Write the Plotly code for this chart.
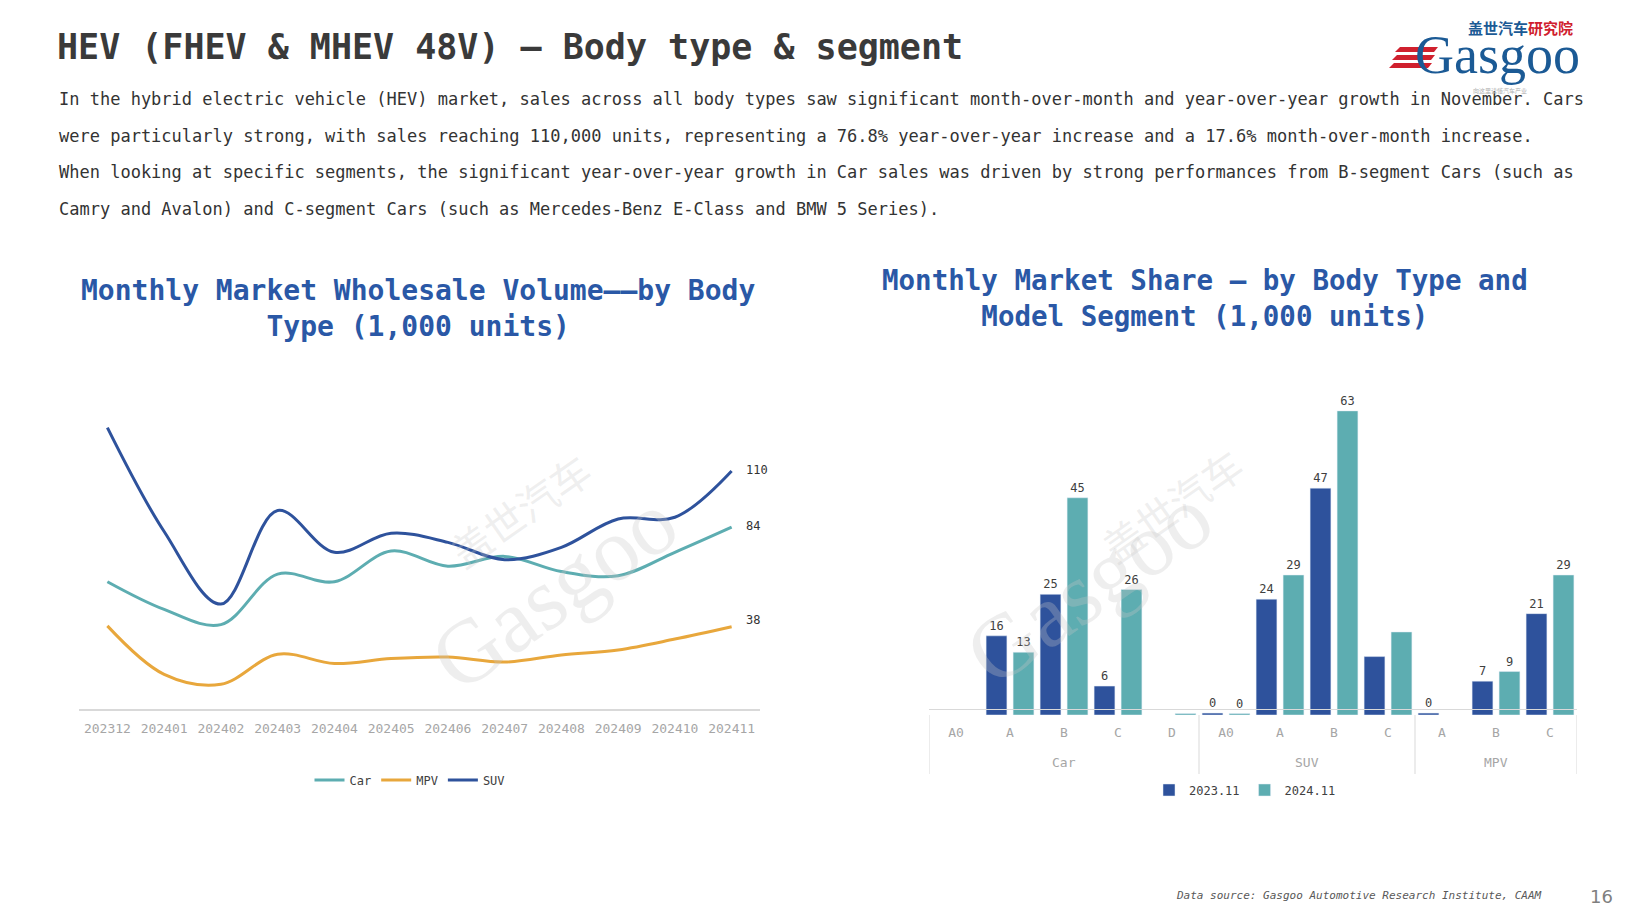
import plotly.graph_objects as go

W, H = 1640, 922
def px(x): return x / W
def py(y): return 1 - y / H

# ---------------- data ----------------
months = ["202312", "202401", "202402", "202403", "202404", "202405",
          "202406", "202407", "202408", "202409", "202410", "202411"]
car = [58.8, 46, 39, 62.3, 58.8, 73, 66, 70.5, 63.5, 61.6, 72.4, 84]
mpv = [38.4, 16, 11.4, 25.3, 21, 23.3, 24, 21.7, 25, 27.3, 32.3, 38]
suv = [130, 82, 48.5, 91.7, 72.4, 81.2, 77, 69, 74.7, 87.8, 88.6, 110]
end_labels = ["84", "38", "110"]

body_types = ["Car", "Car", "Car", "Car", "Car", "SUV", "SUV", "SUV", "SUV", "MPV", "MPV", "MPV"]
segments = ["A0", "A", "B", "C", "D", "A0", "A", "B", "C", "A", "B", "C"]
v2023 = [None, 16.4, 25, 6, None, 0.4, 24, 47, 12.1, 0.4, 7, 21]
v2024 = [None, 13, 45, 26, 0.3, 0.3, 29, 63, 17.2, None, 9, 29]
lab2023 = ["", "16", "25", "6", "", "0", "24", "47", "", "0", "7", "21"]
lab2024 = ["", "13", "45", "26", "", "0", "29", "63", "", "", "9", "29"]

BLUE = "#2E529C"
TEAL = "#5DADB1"
ORANGE = "#E8A73C"
MONO = "DejaVu Sans Mono"

fig = go.Figure()

# ---------------- left line chart ----------------
for name, vals, col in [("Car", car, TEAL), ("MPV", mpv, ORANGE), ("SUV", suv, BLUE)]:
    fig.add_trace(go.Scatter(
        x=months, y=vals, name=name, mode="lines",
        line=dict(color=col, width=3, shape="spline", smoothing=1.0),
        xaxis="x", yaxis="y", legend="legend", hoverinfo="skip"))

fig.add_trace(go.Scatter(
    x=[months[-1]] * 3, y=[car[-1], mpv[-1], suv[-1]], text=end_labels,
    texttemplate="  %{text}",
    mode="text", textposition=["middle right", "top right", "middle right"],
    textfont=dict(family=MONO, size=12, color="#333333"),
    showlegend=False, cliponaxis=False, xaxis="x", yaxis="y", hoverinfo="skip"))

# ---------------- right bar chart ----------------
idx = list(range(len(segments)))
fig.add_trace(go.Bar(
    x=idx, y=v2023, name="2023.11", marker_color=BLUE,
    text=lab2023, textposition="outside", cliponaxis=False,
    textfont=dict(family=MONO, size=12, color="#404040"),
    xaxis="x2", yaxis="y2", legend="legend2", hoverinfo="skip"))
fig.add_trace(go.Bar(
    x=idx, y=v2024, name="2024.11", marker_color=TEAL,
    text=lab2024, textposition="outside", cliponaxis=False,
    textfont=dict(family=MONO, size=12, color="#404040"),
    xaxis="x2", yaxis="y2", legend="legend2", hoverinfo="skip"))

# group labels and dividers, derived from the category lists
groups = []
for i, g in enumerate(body_types):
    if not groups or groups[-1][0] != g:
        groups.append([g, i, i])
    else:
        groups[-1][2] = i
bounds = [groups[0][1] - 0.5] + [g[2] + 0.5 for g in groups]
for g, a, b in groups:
    fig.add_annotation(xref="x2", yref="paper", x=(a + b) / 2, y=py(762),
                       text=g, showarrow=False, yanchor="middle",
                       font=dict(family=MONO, size=13, color="#a6a6a6"))
for bx in bounds:
    fig.add_shape(type="line", xref="x2", yref="paper", x0=bx, x1=bx,
                  y0=py(715), y1=py(774), line=dict(color="#d9d9d9", width=1))

fig.update_layout(
    width=W, height=H, margin=dict(l=0, r=0, t=0, b=0),
    paper_bgcolor="white", plot_bgcolor="white",
    font=dict(family=MONO, color="#404040"),
    barmode="group", bargap=0.0, bargroupgap=0.23,
    xaxis=dict(domain=[px(79), px(760)], type="category", range=[-0.5, 11.5],
               showgrid=False, showline=True, linecolor="#d9d9d9", linewidth=2,
               ticks="", ticklabelstandoff=6,
               tickfont=dict(family=MONO, size=13, color="#a6a6a6"),
               zeroline=False, fixedrange=True),
    yaxis=dict(domain=[py(709), py(380)], range=[0, 152], visible=False,
               showgrid=False, zeroline=False, fixedrange=True),
    xaxis2=dict(domain=[px(929), px(1577)], range=[-0.5, 11.5],
                tickvals=idx, ticktext=segments, ticklabelstandoff=11,
                showgrid=False, showline=True, linecolor="#d9d9d9", linewidth=1,
                zeroline=False, ticks="",
                tickfont=dict(family=MONO, size=13, color="#a6a6a6"),
                fixedrange=True),
    yaxis2=dict(domain=[py(715), py(380)], range=[0, 69.4], visible=False,
                showgrid=False, zeroline=False, fixedrange=True),
    legend=dict(x=px(410), y=py(780), xanchor="center", yanchor="middle",
                orientation="h", font=dict(family=MONO, size=12, color="#404040"),
                bgcolor="rgba(0,0,0,0)", itemwidth=30, tracegroupgap=0),
    legend2=dict(x=px(1245), y=py(790), xanchor="center", yanchor="middle",
                 orientation="h", font=dict(family=MONO, size=12, color="#404040"),
                 bgcolor="rgba(0,0,0,0)", itemwidth=30),
    showlegend=True,
)

# ---------------- header texts ----------------
fig.add_annotation(xref="paper", yref="paper", x=px(55), y=py(47),
                   xanchor="left", yanchor="middle", showarrow=False,
                   text="<b>HEV (FHEV & MHEV 48V) – Body type & segment</b>",
                   font=dict(family=MONO, size=35, color="#3a3a3a"))

body_lines = [
    "In the hybrid electric vehicle (HEV) market, sales across all body types saw significant month-over-month and year-over-year growth in November. Cars",
    "were particularly strong, with sales reaching 110,000 units, representing a 76.8% year-over-year increase and a 17.6% month-over-month increase.",
    "When looking at specific segments, the significant year-over-year growth in Car sales was driven by strong performances from B-segment Cars (such as",
    "Camry and Avalon) and C-segment Cars (such as Mercedes-Benz E-Class and BMW 5 Series).",
]
for i, line in enumerate(body_lines):
    fig.add_annotation(xref="paper", yref="paper", x=px(57), y=py(99 + 36.7 * i),
                       xanchor="left", yanchor="middle", showarrow=False,
                       text=line, font=dict(family=MONO, size=17, color="#333333"))

# chart titles
TITLE_BLUE = "#2A58A6"
fig.add_annotation(xref="paper", yref="paper", x=px(418), y=py(308),
                   xanchor="center", yanchor="middle", showarrow=False, align="center",
                   text="<b>Monthly Market Wholesale Volume——by Body<br>Type (1,000 units)</b>",
                   font=dict(family=MONO, size=28, color=TITLE_BLUE))
fig.add_annotation(xref="paper", yref="paper", x=px(1205), y=py(298),
                   xanchor="center", yanchor="middle", showarrow=False, align="center",
                   text="<b>Monthly Market Share – by Body Type and<br>Model Segment (1,000 units)</b>",
                   font=dict(family=MONO, size=27.5, color=TITLE_BLUE))

# watermarks
for cx, cy in [(410, 590), (1232, 585)]:
    fig.add_annotation(xref="paper", yref="paper", x=px(cx), y=py(cy),
                       showarrow=False, textangle=-35, text="Gasgoo",
                       font=dict(family="Liberation Serif", size=90, color="rgba(200,200,200,0.3)"))
    fig.add_annotation(xref="paper", yref="paper", x=px(cx + 25), y=py(cy - 80),
                       showarrow=False, textangle=-35, text="盖世汽车",
                       font=dict(family="Noto Sans CJK SC", size=40, color="rgba(200,200,200,0.3)"))

# logo
fig.add_annotation(xref="paper", yref="paper", x=px(1520), y=py(27),
                   xanchor="center", yanchor="middle", showarrow=False,
                   text="<b><span style='color:#1B5A95'>盖世汽车</span><span style='color:#D0202E'>研究院</span></b>",
                   font=dict(family="Noto Sans CJK SC", size=15))
fig.add_annotation(xref="paper", yref="paper", x=px(1497), y=py(55),
                   xanchor="center", yanchor="middle", showarrow=False,
                   text="Gasgoo", font=dict(family="Liberation Serif", size=54, color="#1B5A95"))
for k in range(3):
    y0 = 47 + k * 8
    fig.add_shape(type="path", xref="paper", yref="paper",
                  path=f"M {px(1400 - k*3)} {py(y0)} L {px(1438 - k*3)} {py(y0)} L {px(1434 - k*3)} {py(y0 + 5)} L {px(1395 - k*3)} {py(y0 + 5)} Z",
                  fillcolor="#D0202E", line=dict(width=0))
fig.add_annotation(xref="paper", yref="paper", x=px(1500), y=py(90),
                   xanchor="center", yanchor="middle", showarrow=False,
                   text="向这里读懂汽车产业",
                   font=dict(family="Noto Sans CJK SC", size=6, color="#b0b0b0"))

# footer
fig.add_annotation(xref="paper", yref="paper", x=px(1544), y=py(895),
                   xanchor="right", yanchor="middle", showarrow=False,
                   text="<i>Data source: Gasgoo Automotive Research Institute, CAAM</i>",
                   font=dict(family=MONO, size=11, color="#595959"))
fig.add_annotation(xref="paper", yref="paper", x=px(1601), y=py(896),
                   xanchor="center", yanchor="middle", showarrow=False,
                   text="16", font=dict(family="DejaVu Sans", size=18, color="#7f7f7f"))

fig.write_html("out.html", config={"displayModeBar": False},
               post_script="document.body.style.margin='0';")
